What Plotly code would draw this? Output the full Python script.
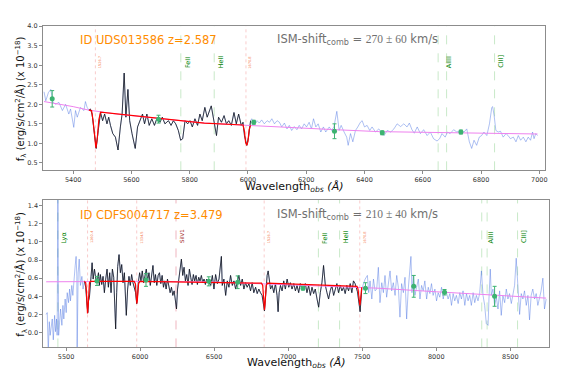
import numpy as np
import plotly.graph_objects as go

# ---------------- data: top object (UDS013586) ----------------
top_z = 2.587
top_wave = [5300, 5306, 5315, 5323, 5331, 5340, 5351, 5363, 5374, 5385, 5391, 5402, 5408, 5414, 5425, 5437,
            5442, 5448, 5454, 5459, 5465, 5471, 5479, 5486, 5494, 5501, 5508, 5516, 5522, 5528, 5536, 5545,
            5554, 5562, 5568, 5575, 5581, 5588, 5594, 5602, 5613, 5621, 5630, 5638, 5645, 5653, 5661, 5670,
            5679, 5687, 5698, 5706, 5715, 5727, 5736, 5744, 5752, 5761, 5769, 5776, 5784, 5793, 5801, 5809,
            5818, 5827, 5835, 5843, 5852, 5860, 5874, 5884, 5892, 5899, 5909, 5918, 5926, 5934, 5943, 5952,
            5960, 5968, 5977, 5983, 5988, 5996, 6002, 6009, 6013, 6022, 6031, 6039, 6047, 6056, 6066, 6074,
            6082, 6091, 6100, 6108, 6116, 6125, 6134, 6142, 6150, 6159, 6168, 6176, 6184, 6193, 6201, 6210,
            6218, 6225, 6233, 6241, 6250, 6259, 6267, 6279, 6287, 6295, 6305, 6313, 6320, 6330, 6339, 6344,
            6352, 6360, 6369, 6377, 6386, 6392, 6400, 6409, 6418, 6426, 6438, 6449, 6467, 6478, 6490, 6501,
            6512, 6524, 6535, 6546, 6554, 6563, 6571, 6581, 6592, 6603, 6615, 6626, 6637, 6649, 6658, 6666,
            6677, 6685, 6694, 6706, 6717, 6728, 6742, 6751, 6760, 6768, 6776, 6785, 6794, 6802, 6810, 6820,
            6829, 6837, 6840, 6845, 6851, 6859, 6867, 6876, 6886, 6893, 6901, 6911, 6920, 6928, 6936, 6945,
            6954, 6962, 6970, 6977, 6982, 6988, 6994]
top_flux = [2.32, 2.09, 2.30, 2.38, 2.05, 2.00, 2.05, 1.84, 2.00, 1.75, 1.88, 1.41, 1.84, 1.67, 1.92, 1.84,
            2.07, 1.92, 1.85, 1.88, 1.75, 1.33, 0.87, 1.33, 1.79, 1.58, 1.75, 1.50, 1.67, 1.46, 1.25, 1.16,
            0.83, 1.42, 1.75, 2.80, 1.67, 2.38, 1.58, 1.25, 0.87, 1.42, 1.58, 1.75, 1.50, 1.75, 1.46, 1.63,
            1.46, 1.63, 1.54, 1.67, 1.50, 1.58, 1.46, 1.58, 1.50, 1.33, 1.08, 1.12, 1.58, 1.50, 1.58, 1.42,
            1.63, 1.46, 1.75, 1.58, 1.92, 1.67, 1.96, 1.58, 1.20, 1.67, 1.54, 1.71, 1.50, 1.58, 1.46, 1.79,
            1.50, 1.75, 1.46, 1.54, 1.20, 0.95, 1.16, 1.58, 1.63, 1.50, 1.58, 1.52, 1.60, 1.50, 1.58, 1.54,
            1.63, 1.50, 1.58, 1.54, 1.42, 1.52, 1.37, 1.46, 1.33, 1.43, 1.35, 1.46, 1.37, 1.50, 1.42, 1.54,
            1.37, 1.63, 1.42, 1.50, 1.29, 1.42, 1.29, 1.42, 1.33, 1.42, 1.82, 1.33, 1.46, 1.29, 1.16, 0.95,
            1.25, 1.04, 1.33, 1.42, 1.54, 1.58, 1.42, 1.46, 1.33, 1.42, 1.29, 1.37, 1.20, 1.33, 1.29, 1.37,
            1.50, 1.43, 1.50, 1.42, 1.52, 1.35, 1.26, 1.42, 1.25, 1.35, 1.20, 1.29, 1.12, 1.06, 1.12, 1.25,
            1.16, 1.29, 1.25, 1.35, 1.29, 1.33, 1.29, 1.37, 1.04, 0.87, 1.08, 0.95, 1.16, 1.20, 1.29, 1.20,
            1.50, 1.92, 1.94, 1.71, 1.33, 1.29, 1.31, 1.16, 1.25, 1.20, 1.12, 1.16, 1.04, 1.20, 1.08, 1.16,
            1.04, 1.16, 1.08, 1.29, 1.12, 1.25, 1.20]
top_fit_window = (5454, 6009)
top_cont_wave = [5300, 5400, 5454, 5550, 5693, 5850, 6000, 6150, 6300, 6450, 6600, 6800, 6994]
top_cont_flux = [2.07, 1.94, 1.85, 1.75, 1.64, 1.52, 1.46, 1.40, 1.35, 1.30, 1.28, 1.26, 1.24]
top_model_wave = [5454, 5463, 5468, 5473, 5478, 5483, 5488, 5494, 5693, 5850, 5983, 5988, 5992, 5996,
                  6000, 6004, 6009]
top_model_flux = [1.85, 1.84, 1.60, 1.15, 0.88, 1.15, 1.60, 1.80, 1.64, 1.52, 1.47, 1.30, 1.02, 0.95,
                  1.05, 1.35, 1.46]
top_pts_wave = [5328, 5693, 6020, 6297, 6461, 6731]
top_pts_flux = [2.14, 1.62, 1.54, 1.31, 1.27, 1.29]
top_pts_err = [0.21, 0.10, 0.05, 0.19, 0.05, 0.05]
top_lines = [("1526.7", 1526.7, "ism"), ("FeII", 1608.45, "em"), ("HeII", 1640.4, "em"),
             ("1670.8", 1670.8, "ism"), ("AlIII", 1854.7, "em"), ("", 1862.8, "em"), ("CIII]", 1908.7, "em")]

# ---------------- data: bottom object (CDFS004717) ----------------
bot_z = 3.479
bot_wave = [5366, 5373, 5380, 5387, 5393, 5400, 5407, 5414, 5423, 5429, 5436, 5440, 5445, 5450, 5456, 5463,
            5472, 5479, 5485, 5494, 5501, 5508, 5517, 5524, 5530, 5539, 5546, 5553, 5562, 5568, 5573, 5575,
            5582, 5589, 5597, 5607, 5615, 5624, 5633, 5642, 5647, 5652, 5658, 5669, 5676, 5683, 5692, 5703,
            5710, 5719, 5725, 5732, 5741, 5750, 5759, 5768, 5777, 5786, 5795, 5804, 5813, 5822, 5831, 5835,
            5842, 5849, 5858, 5867, 5876, 5885, 5894, 5900, 5907, 5916, 5925, 5934, 5943, 5952, 5961, 5970,
            5977, 5982, 5988, 5997, 6006, 6015, 6024, 6033, 6042, 6051, 6060, 6069, 6078, 6087, 6096, 6104,
            6113, 6122, 6131, 6140, 6149, 6158, 6167, 6176, 6185, 6194, 6203, 6212, 6221, 6230, 6239, 6246,
            6253, 6261, 6270, 6279, 6288, 6297, 6306, 6315, 6324, 6333, 6342, 6351, 6360, 6369, 6378, 6387,
            6396, 6405, 6414, 6423, 6432, 6441, 6450, 6459, 6477, 6488, 6499, 6510, 6522, 6533, 6549, 6555,
            6566, 6578, 6589, 6600, 6611, 6623, 6634, 6645, 6656, 6667, 6679, 6690, 6701, 6712, 6723, 6735,
            6746, 6757, 6768, 6780, 6791, 6802, 6813, 6824, 6840, 6847, 6858, 6865, 6872, 6881, 6892, 6903,
            6914, 6925, 6932, 6939, 6948, 6959, 6970, 6981, 6993, 7004, 7015, 7026, 7038, 7049, 7060, 7071,
            7082, 7094, 7105, 7116, 7127, 7138, 7150, 7161, 7172, 7183, 7195, 7206, 7217, 7228, 7239, 7251,
            7262, 7273, 7284, 7295, 7307, 7318, 7329, 7340, 7352, 7363, 7374, 7385, 7396, 7408, 7419, 7430,
            7441, 7452, 7468, 7486, 7497, 7509, 7520, 7535, 7544, 7553, 7565, 7576, 7587, 7598, 7609, 7620,
            7632, 7643, 7654, 7665, 7677, 7688, 7699, 7710, 7722, 7733, 7744, 7755, 7766, 7778, 7789, 7800,
            7811, 7822, 7829, 7836, 7845, 7856, 7867, 7879, 7890, 7901, 7912, 7923, 7935, 7946, 7957, 7968,
            7979, 7991, 8002, 8013, 8024, 8036, 8047, 8058, 8069, 8080, 8092, 8103, 8114, 8125, 8136, 8148,
            8159, 8170, 8181, 8193, 8204, 8215, 8226, 8237, 8249, 8260, 8271, 8282, 8293, 8305, 8316, 8327,
            8338, 8350, 8356, 8365, 8372, 8383, 8394, 8406, 8417, 8428, 8439, 8450, 8462, 8473, 8484, 8495,
            8507, 8518, 8529, 8540, 8551, 8563, 8574, 8585, 8596, 8608, 8619, 8630, 8641, 8652, 8664, 8675,
            8686, 8697, 8708, 8720, 8731, 8742]
bot_flux = [0.20, 0.22, -0.21, 0.12, -0.03, 0.08, 0.15, -0.08, 0.19, 0.01, 0.15, -0.03, 1.60, -0.03, 0.15, 0.26,
            0.08, 0.30, 0.15, 0.37, 0.22, 0.44, 0.33, 0.48, 0.35, 0.52, 0.41, 0.62, 0.74, 0.84, 0.62, -0.21,
            0.66, 0.81, 0.52, 0.62, 0.48, 0.57, 0.50, 0.30, 0.22, 0.35, 0.39, 0.62, 0.77, 0.59, 0.70, 0.57,
            0.57, 0.66, 0.52, 0.64, 0.53, 0.62, 0.44, 0.59, 0.70, 0.50, 0.66, 0.44, 0.70, 0.61, 0.30, 0.04,
            0.44, 0.73, 0.86, 0.66, 0.75, 0.55, 0.66, 0.41, 0.19, 0.48, 0.62, 0.52, 0.64, 0.55, 0.50, 0.44,
            0.32, 0.38, 0.55, 0.66, 0.57, 0.68, 0.55, 0.63, 0.70, 0.57, 0.66, 0.52, 0.61, 0.74, 0.55, 0.64,
            0.52, 0.63, 0.66, 0.54, 0.63, 0.50, 0.57, 0.48, 0.59, 0.52, 0.44, 0.50, 0.41, 0.46, 0.30, 0.26,
            0.48, 0.59, 0.70, 0.81, 0.63, 0.72, 0.57, 0.64, 0.52, 0.70, 0.61, 0.53, 0.64, 0.57, 0.63, 0.53,
            0.61, 0.57, 0.63, 0.55, 0.59, 0.53, 0.59, 0.57, 0.52, 0.63, 0.48, 0.64, 0.54, 0.59, 0.84, 0.52,
            0.59, 0.41, 0.57, 0.50, 0.63, 0.52, 0.57, 0.48, 0.57, 0.63, 0.52, 0.59, 0.48, 0.55, 0.50, 0.54,
            0.46, 0.55, 0.44, 0.50, 0.43, 0.48, 0.44, 0.41, 0.24, 0.41, 0.63, 0.68, 0.57, 0.48, 0.52, 0.44,
            0.54, 0.41, 0.23, 0.44, 0.52, 0.46, 0.57, 0.48, 0.59, 0.50, 0.55, 0.48, 0.54, 0.46, 0.52, 0.44,
            0.54, 0.48, 0.48, 0.54, 0.44, 0.52, 0.41, 0.50, 0.43, 0.48, 0.37, 0.28, 0.44, 0.55, 0.74, 0.52,
            0.44, 0.37, 0.46, 0.52, 0.41, 0.48, 0.54, 0.44, 0.52, 0.46, 0.50, 0.43, 0.52, 0.46, 0.54, 0.44,
            0.57, 0.54, 0.45, 0.23, 0.48, 0.54, 0.59, 0.63, 0.44, 0.57, 0.37, 0.59, 0.46, 0.48, 0.72, 0.33,
            0.55, 0.44, 0.63, 0.39, 0.52, 0.68, 0.46, 0.55, 0.41, 0.63, 0.50, 0.17, 0.54, 0.44, 0.61, 0.15,
            0.48, 0.66, 0.84, 0.44, 0.63, 0.41, 0.52, 0.59, 0.37, 0.52, 0.46, 0.57, 0.37, 0.50, 0.43, 0.54,
            0.41, 0.48, 0.35, 0.44, 0.39, 0.50, 0.37, 0.46, 0.44, 0.37, 0.43, 0.30, 0.43, 0.35, 0.41, 0.32,
            0.44, 0.37, 0.46, 0.30, 0.43, 0.35, 0.41, 0.30, 0.44, 0.33, 0.41, 0.35, 0.43, 0.68, 0.41, 0.30,
            0.10, 0.08, 0.37, 0.70, 0.41, 0.48, 0.30, 0.39, 0.26, 0.46, 0.19, 0.41, 0.33, 0.48, 0.37, 0.43,
            0.32, 0.44, 0.52, 0.82, 0.44, 0.20, 0.43, 0.37, 0.46, 0.30, 0.41, 0.14, 0.41, 0.48, 0.37, 0.43,
            0.30, 0.39, 0.46, 0.60, 0.26, 0.37]
bot_fit_window = (5624, 7497)
bot_cont_wave = [5366, 6000, 6460, 7000, 7450, 7600, 8000, 8400, 8742]
bot_cont_flux = [0.560, 0.565, 0.560, 0.530, 0.500, 0.490, 0.450, 0.410, 0.380]
bot_model_wave = [5624, 5633, 5638, 5642, 5645, 5649, 5653, 5658, 5665, 5960, 5968, 5972, 5975, 5978, 5981,
                  5985, 5990, 5998, 6820, 6828, 6833, 6837, 6840, 6843, 6847, 6852, 6860, 7465, 7472, 7477,
                  7481, 7484, 7487, 7491, 7497]
bot_model_flux = [0.565, 0.55, 0.45, 0.28, 0.21, 0.28, 0.45, 0.55, 0.565, 0.565, 0.54, 0.45, 0.35, 0.32, 0.35,
                  0.45, 0.54, 0.565, 0.545, 0.52, 0.42, 0.30, 0.25, 0.30, 0.42, 0.52, 0.545, 0.51, 0.48, 0.40,
                  0.32, 0.30, 0.33, 0.42, 0.50]
bot_pts_wave = [5709, 6040, 6464, 6659, 7100, 7522, 7848, 8056, 8394]
bot_pts_flux = [0.57, 0.58, 0.565, 0.555, 0.49, 0.49, 0.51, 0.445, 0.40]
bot_pts_err = [0.05, 0.07, 0.05, 0.07, 0.02, 0.06, 0.12, 0.03, 0.11]
bot_lines = [("Lyα", 1215.67, "em"), ("1260.4", 1260.4, "ism"), ("1334.5", 1334.5, "ism"),
             ("SiIV1", 1393.76, "si"), ("1526.7", 1526.7, "ism"), ("FeII", 1608.45, "em"),
             ("HeII", 1640.4, "em"), ("1670.8", 1670.8, "ism"), ("AlIII", 1854.7, "em"), ("", 1862.8, "em"),
             ("CIII]", 1908.7, "em")]

W, H = 568, 382
BLUE = "rgba(70,110,225,0.55)"
GREEN_PT = "mediumseagreen"
line_style = {"ism": dict(color="rgba(240,128,128,0.4)", dash="dot"),
              "si": dict(color="rgba(220,90,110,0.45)", dash="dash"),
              "em": dict(color="rgba(120,200,120,0.4)", dash="dash")}
label_style = {"ism": dict(color="#f4794f", size=3.5),
               "si": dict(color="brown", size=5.5),
               "em": dict(color="green", size=6.5)}

fig = go.Figure()
annotations = []
shapes = []


def add_panel(xa, ya, wave, flux, window, cwave, cflux, mwave, mflux, pw, pf, pe, lines, z, label_y):
    wave = np.array(wave)
    flux = np.array(flux)
    fig.add_trace(go.Scatter(x=wave, y=flux, mode="lines", line=dict(color=BLUE, width=0.8),
                             xaxis=xa, yaxis=ya, hoverinfo="skip"))
    m = (wave >= window[0]) & (wave <= window[1])
    fig.add_trace(go.Scatter(x=wave[m], y=flux[m], mode="lines", line=dict(color="rgba(20,20,20,0.78)", width=1),
                             xaxis=xa, yaxis=ya))
    fig.add_trace(go.Scatter(x=cwave, y=cflux, mode="lines", line=dict(color="violet", width=1),
                             xaxis=xa, yaxis=ya))
    fig.add_trace(go.Scatter(x=mwave, y=mflux, mode="lines", line=dict(color="red", width=1.2),
                             xaxis=xa, yaxis=ya))
    fig.add_trace(go.Scatter(x=pw, y=pf, mode="markers",
                             marker=dict(color=GREEN_PT, size=5, symbol="circle"),
                             error_y=dict(type="data", array=pe, color=GREEN_PT, thickness=1, width=2),
                             xaxis=xa, yaxis=ya))
    for name, rest, kind in lines:
        obs = rest * (1 + z)
        shapes.append(dict(type="line", xref=xa, yref=ya + " domain", x0=obs, x1=obs, y0=0, y1=1,
                           line=dict(width=1, **line_style[kind]), layer="below"))
    # labels (AlIII label sits at the doublet centre)
    for i, (name, rest, kind) in enumerate(lines):
        if not name:
            continue
        pos = rest
        if name == "AlIII":
            pos = (rest + lines[i + 1][1]) / 2
        annotations.append(dict(x=pos * (1 + z), y=label_y, xref=xa, yref=ya, text=name,
                                textangle=-90, showarrow=False, xanchor="left", yanchor="bottom",
                                xshift=0.5, font=dict(family="DejaVu Sans", **label_style[kind])))


add_panel("x", "y", top_wave, top_flux, top_fit_window, top_cont_wave, top_cont_flux, top_model_wave,
          top_model_flux, top_pts_wave, top_pts_flux, top_pts_err, top_lines, top_z, 2.87)
add_panel("x2", "y2", bot_wave, bot_flux, bot_fit_window, bot_cont_wave, bot_cont_flux, bot_model_wave,
          bot_model_flux, bot_pts_wave, bot_pts_flux, bot_pts_err, bot_lines, bot_z, 0.96)

axis_common = dict(showline=True, mirror=True, linecolor="#8c8c8c", linewidth=1, ticks="outside",
                   ticklen=3, tickcolor="#8c8c8c", showgrid=False, zeroline=False,
                   tickfont=dict(family="DejaVu Sans", size=6.5, color="#333333"))

fig.update_layout(
    width=W, height=H, margin=dict(l=0, r=0, t=0, b=0),
    paper_bgcolor="white", plot_bgcolor="white", showlegend=False,
    xaxis=dict(domain=[35 / W, 539 / W], range=[5296, 7020], anchor="y",
               tickvals=[5400, 5600, 5800, 6000, 6200, 6400, 6600, 6800, 7000], **axis_common),
    yaxis=dict(domain=[1 - 160 / H, 1 - 14.3 / H], range=[0.31, 4.0], anchor="x",
               tickvals=[0.5, 1.0, 1.5, 2.0, 2.5, 3.0, 3.5, 4.0], tickformat=".1f", **axis_common),
    xaxis2=dict(domain=[35.5 / W, 543 / W], range=[5347, 8762], anchor="y2",
                tickvals=[5500, 6000, 6500, 7000, 7500, 8000, 8500], **axis_common),
    yaxis2=dict(domain=[1 - 339 / H, 1 - 190 / H], range=[-0.164, 1.462], anchor="x2",
                tickvals=[0.0, 0.2, 0.4, 0.6, 0.8, 1.0, 1.2, 1.4], tickformat=".1f", **axis_common),
)

ylab = "f<sub>λ</sub> (erg/s/cm<sup>2</sup>/Å) (x 10<sup>−18</sup>)"
xlab = "Wavelength<sub><i>obs</i></sub> <i>(Å)</i>"
serif = '<span style="font-family:Liberation Serif">'
for yc, xc, ycl in [((14.3 + 160) / 2, 287, 177), ((190 + 339) / 2, 289, 355)]:
    annotations.append(dict(x=13 / W, y=1 - yc / H, xref="paper", yref="paper", text=ylab, textangle=-90,
                            xanchor="center", yanchor="middle", showarrow=False,
                            font=dict(family="DejaVu Sans", size=10, color="#111")))
    annotations.append(dict(x=xc / W, y=1 - ycl / H, xref="paper", yref="paper", text=xlab,
                            xanchor="center", yanchor="middle", showarrow=False,
                            font=dict(family="DejaVu Sans", size=11, color="#111")))

titles = [("ID UDS013586 z=2.587", "270 ± 60", 28), ("ID CDFS004717 z=3.479", "210 ± 40", 205)]
for idtxt, shift, yc in titles:
    annotations.append(dict(x=70 / W, y=1 - yc / H, xref="paper", yref="paper", text=idtxt,
                            xanchor="left", yanchor="middle", showarrow=False,
                            font=dict(family="DejaVu Sans", size=11.5, color="darkorange")))
    annotations.append(dict(x=268 / W, y=1 - yc / H, xref="paper", yref="paper", xanchor="left",
                            yanchor="middle", text="ISM-shift<sub>comb</sub> = " + serif + shift + "</span> km/s",
                            showarrow=False, font=dict(family="DejaVu Sans", size=11.5, color="#707070")))

fig.update_layout(annotations=annotations, shapes=shapes)
fig.write_html("out.html")
